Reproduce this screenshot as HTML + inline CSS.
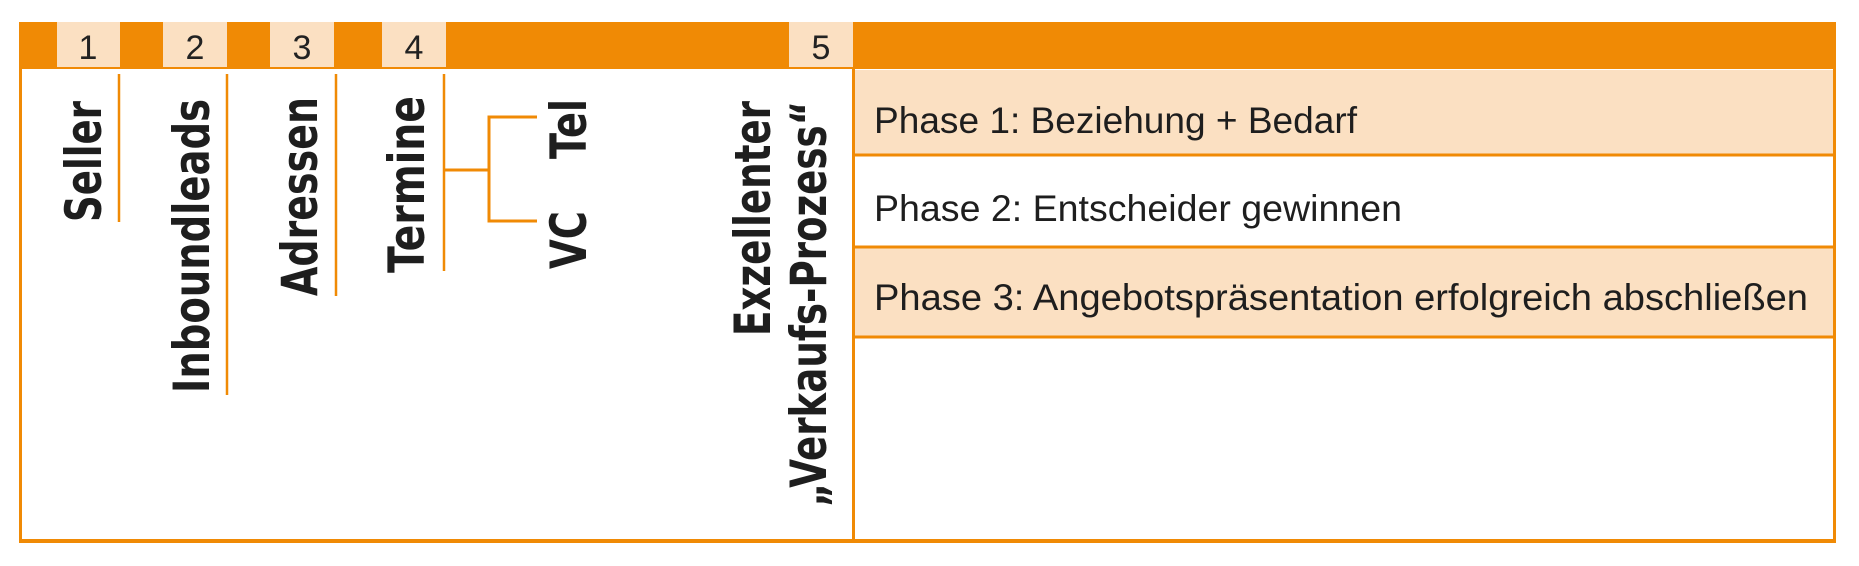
<!DOCTYPE html>
<html><head><meta charset="utf-8"><style>
html,body{margin:0;padding:0;background:#fff;}
svg{display:block;}
</style></head><body>
<svg width="1859" height="566" viewBox="0 0 1859 566" xmlns="http://www.w3.org/2000/svg">
<rect x="0" y="0" width="1859" height="566" fill="#fff"/>
<rect x="19" y="22" width="1817" height="47" fill="#f08a05"/>
<g fill="#fbe0c2">
<rect x="57" y="22" width="63" height="45"/>
<rect x="163" y="22" width="64" height="45"/>
<rect x="270" y="22" width="64" height="45"/>
<rect x="382" y="22" width="64" height="45"/>
<rect x="789" y="22" width="64" height="45"/>
</g>
<g font-family="Liberation Sans Narrow, Liberation Sans, sans-serif" font-size="34" fill="#222" text-anchor="middle">
<text x="88" y="59">1</text>
<text x="195" y="59">2</text>
<text x="302" y="59">3</text>
<text x="414" y="59">4</text>
<text x="821" y="59">5</text>
</g>
<rect x="854" y="70" width="980" height="85" fill="#fbe0c2"/>
<rect x="854" y="247" width="980" height="89" fill="#fbe0c2"/>
<g stroke="#f08a05" stroke-width="3">
<line x1="854" y1="155" x2="1835" y2="155"/>
<line x1="854" y1="247" x2="1835" y2="247"/>
<line x1="854" y1="337" x2="1835" y2="337"/>
</g>
<g stroke="#f08a05" fill="none">
<line x1="20.5" y1="68" x2="20.5" y2="541" stroke-width="3"/>
<line x1="853.5" y1="68" x2="853.5" y2="541" stroke-width="3"/>
<line x1="1834.5" y1="68" x2="1834.5" y2="541" stroke-width="3"/>
<line x1="19" y1="541" x2="1836" y2="541" stroke-width="4"/>
<line x1="119" y1="74" x2="119" y2="222" stroke-width="2.5"/>
<line x1="227" y1="74" x2="227" y2="395" stroke-width="2.5"/>
<line x1="336" y1="74" x2="336" y2="296" stroke-width="2.5"/>
<line x1="444" y1="74" x2="444" y2="271" stroke-width="2.5"/>
<polyline points="444,170 489,170" stroke-width="3"/>
<polyline points="537,117 489,117 489,221 537,221" stroke-width="3"/>
</g>
<g font-family="Liberation Sans Narrow, Liberation Sans, sans-serif" font-size="37" fill="#1e1e1e">
<text x="874" y="133" textLength="483" lengthAdjust="spacingAndGlyphs">Phase 1: Beziehung + Bedarf</text>
<text x="874" y="221" textLength="528" lengthAdjust="spacingAndGlyphs">Phase 2: Entscheider gewinnen</text>
<text x="874" y="310" textLength="934" lengthAdjust="spacingAndGlyphs">Phase 3: Angebotspräsentation erfolgreich abschließen</text>
</g>
<g font-family="DejaVu Sans, sans-serif" font-weight="bold" font-size="50" fill="#1e1e1e">
<text transform="translate(101,222) rotate(-90)" textLength="121" lengthAdjust="spacingAndGlyphs">Seller</text>
<text transform="translate(209,393) rotate(-90)" textLength="294" lengthAdjust="spacingAndGlyphs">Inboundleads</text>
<text transform="translate(317,296) rotate(-90)" textLength="199" lengthAdjust="spacingAndGlyphs">Adressen</text>
<text transform="translate(424,273) rotate(-90)" textLength="177" lengthAdjust="spacingAndGlyphs">Termine</text>
<text transform="translate(586,159) rotate(-90)" textLength="60" lengthAdjust="spacingAndGlyphs">Tel</text>
<text transform="translate(586,269) rotate(-90)" textLength="58" lengthAdjust="spacingAndGlyphs">VC</text>
<text transform="translate(770,336) rotate(-90)" textLength="235" lengthAdjust="spacingAndGlyphs">Exzellenter</text>
<text transform="translate(826,507) rotate(-90)" textLength="406" lengthAdjust="spacingAndGlyphs">„Verkaufs-Prozess“</text>
</g>
</svg>
</body></html>
